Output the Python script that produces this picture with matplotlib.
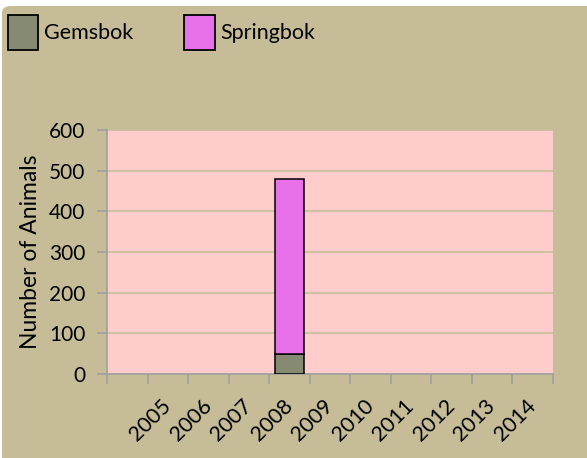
import matplotlib
matplotlib.use("Agg")
import matplotlib.pyplot as plt
from matplotlib.patches import FancyBboxPatch, Patch
import numpy as np

plt.rcParams['font.family'] = ['Lato', 'DejaVu Sans']

years = ['', '2005', '2006', '2007', '2008', '2009', '2010', '2011', '2012', '2013', '2014']
gemsbok = [0, 0, 0, 0, 50, 0, 0, 0, 0, 0, 0]
springbok = [0, 0, 0, 0, 430, 0, 0, 0, 0, 0, 0]
yticks = [0, 100, 200, 300, 400, 500, 600]

bg = '#C6BD98'
pink = '#FFCCCC'
c_gems = '#878A72'
c_spring = '#E870E8'
grey = '#A0A0A0'

W, H = 587, 458
fig = plt.figure(figsize=(W / 100, H / 100), dpi=100, facecolor='white')
fig.patches.append(FancyBboxPatch((2 / W, -10 / H), 600 / W, 462 / H,
                                  boxstyle='round,pad=0,rounding_size=0.015',
                                  transform=fig.transFigure, facecolor=bg,
                                  edgecolor='none', zorder=-10))

ax = fig.add_axes([107 / W, 1 - 374 / H, (553 - 107) / W, (374 - 130) / H])
ax.set_facecolor(pink)

x = np.arange(len(years))
g = np.array(gemsbok, dtype=float)
s = np.array(springbok, dtype=float)
mask = (g + s) > 0
ax.bar(x[mask], g[mask], width=0.73, color=c_gems, edgecolor='black', linewidth=1.1, zorder=3)
ax.bar(x[mask], s[mask], bottom=g[mask], width=0.73, color=c_spring, edgecolor='black', linewidth=1.1, zorder=3)

ax.set_xlim(-0.5, len(years) - 0.5)
ax.set_ylim(0, 600)
ax.set_yticks(yticks)
ax.set_yticklabels([str(v) for v in yticks], fontsize=15)
ax.yaxis.grid(True, color='#C8BE96', linewidth=1.2, zorder=1)
ax.set_axisbelow(True)

ax.set_xticks(x)
ax.set_xticklabels(years, fontsize=15.5, rotation=45, ha='right', va='center', rotation_mode='anchor')
ax.set_xticks(np.arange(-0.5, len(years)), minor=True)
ax.tick_params(axis='x', which='major', length=0, pad=21)
ax.tick_params(axis='x', which='minor', length=7, color=grey, width=1.2)
ax.tick_params(axis='y', length=7, color=grey, width=1.2, pad=8.5)

for sp in ['top', 'right']:
    ax.spines[sp].set_visible(False)
for sp in ['left', 'bottom']:
    ax.spines[sp].set_color(grey)
    ax.spines[sp].set_linewidth(1.2)

ax.set_ylabel('Number of Animals', fontsize=16.5)
ax.yaxis.set_label_coords(-0.149, 0.5)

handles = [Patch(facecolor=c_gems, edgecolor='black', linewidth=1.3, label='Gemsbok'),
           Patch(facecolor=c_spring, edgecolor='black', linewidth=1.3, label='Springbok')]
fig.legend(handles=handles, loc='upper left', bbox_to_anchor=(8 / W, 1 - 15 / H),
           ncol=2, frameon=False, fontsize=15.5, borderpad=0, borderaxespad=0,
           handlelength=1.4, handleheight=2.1, handletextpad=0.25, columnspacing=2.4)

fig.savefig('out.png', dpi=100, facecolor='white')
